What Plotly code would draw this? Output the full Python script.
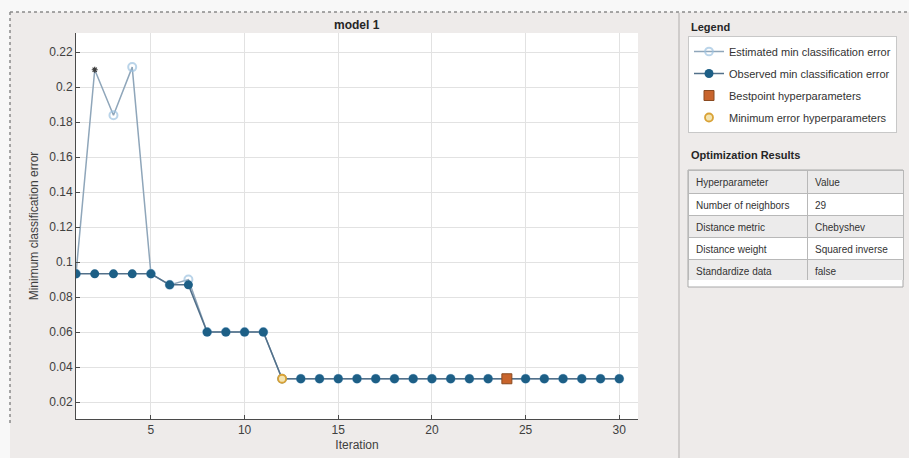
import plotly.graph_objects as go

W, H = 909, 458

iterations = list(range(1, 31))
estimated = [0.0933, 0.2100, 0.1840, 0.2115, 0.0933, 0.0870, 0.0900,
             0.0600, 0.0600, 0.0600, 0.0600] + [0.0333] * 19
observed = [0.0933] * 5 + [0.0870] * 2 + [0.0600] * 4 + [0.0333] * 19
best_iter = [24]
best_val = [0.0333]
minerr_iter = [12]
minerr_val = [0.0333]

ytick_vals = [0.02, 0.04, 0.06, 0.08, 0.10, 0.12, 0.14, 0.16, 0.18, 0.20, 0.22]
ytick_text = ["0.02", "0.04", "0.06", "0.08", "0.1", "0.12", "0.14", "0.16", "0.18", "0.2", "0.22"]
xtick_vals = [5, 10, 15, 20, 25, 30]

table_params = ["Hyperparameter", "Number of neighbors", "Distance metric", "Distance weight", "Standardize data"]
table_values = ["Value", "29", "Chebyshev", "Squared inverse", "false"]

FONT = "Liberation Sans, Arial, sans-serif"

def px(x):
    return x / W

def py(y):
    return 1 - y / H

fig = go.Figure()

est_sizes = [8] * len(iterations)
est_sizes[1] = 0

fig.add_trace(go.Scatter(
    x=iterations, y=estimated, mode="lines+markers",
    name="Estimated min classification error",
    line=dict(color="#8fa6ba", width=1.5),
    marker=dict(symbol="circle-open", size=est_sizes, color="#9cc2df", line=dict(width=2, color="#9cc2df")),
    legendgroup="a",
))
fig.add_trace(go.Scatter(
    x=[iterations[1]], y=[estimated[1]], mode="markers", showlegend=False,
    marker=dict(symbol="asterisk", size=5, color="#3a3a3a", line=dict(width=1.2, color="#3a3a3a")),
))
fig.add_trace(go.Scatter(
    x=iterations, y=observed, mode="lines+markers",
    name="Observed min classification error",
    line=dict(color="#52708a", width=1.5),
    marker=dict(symbol="circle", size=9, color="#1d5f86"),
    legendgroup="b",
))
fig.add_trace(go.Scatter(
    x=best_iter, y=best_val, mode="markers",
    name="Bestpoint hyperparameters",
    marker=dict(symbol="square", size=10, color="#c8642c", line=dict(width=1, color="#8a4a20")),
    legendgroup="c",
))
fig.add_trace(go.Scatter(
    x=minerr_iter, y=minerr_val, mode="markers",
    name="Minimum error hyperparameters",
    marker=dict(symbol="circle", size=8, color="#f4e4b0", line=dict(width=1.8, color="#d9a236")),
    legendgroup="d",
))

fig.add_trace(go.Table(
    domain=dict(x=[px(688), px(903)], y=[py(280), py(170)]),
    columnwidth=[119, 96],
    header=dict(values=[[table_params[0]], [table_values[0]]],
                fill_color="#ecebeb", line_color="#b8b8b8",
                align="left", height=23,
                font=dict(family=FONT, size=10, color="#333333")),
    cells=dict(values=[table_params[1:], table_values[1:]],
               fill_color=[["#ffffff", "#ecebeb", "#ffffff", "#ecebeb"]] * 2,
               line_color="#b8b8b8", align="left", height=22,
               font=dict(family=FONT, size=10, color="#333333")),
))

shapes = [
    dict(type="rect", xref="paper", yref="paper", x0=0, x1=1, y0=py(12), y1=1,
         fillcolor="#f8f8f8", line=dict(width=0), layer="below"),
    dict(type="rect", xref="paper", yref="paper", x0=0, x1=px(10), y0=0, y1=1,
         fillcolor="#f8f8f8", line=dict(width=0), layer="below"),
    dict(type="line", xref="paper", yref="paper", x0=px(10), x1=1, y0=py(12), y1=py(12),
         line=dict(color="#8a8a8a", width=1.5, dash="dot")),
    dict(type="line", xref="paper", yref="paper", x0=px(10), x1=px(10), y0=py(12), y1=py(425),
         line=dict(color="#8a8a8a", width=1.5, dash="dot")),
    dict(type="line", xref="paper", yref="paper", x0=px(679), x1=px(679), y0=0, y1=py(13),
         line=dict(color="#c4c2c1", width=1.5)),
    dict(type="rect", xref="paper", yref="paper", x0=px(688), x1=px(903), y0=py(287), y1=py(170),
         fillcolor="#ffffff", line=dict(color="#a8a8a8", width=1), layer="below"),
]

annotations = [
    dict(text="<b>model 1</b>", x=px(357), y=py(25), xref="paper", yref="paper",
         xanchor="center", yanchor="middle",
         showarrow=False, font=dict(family=FONT, size=12, color="#262626")),
    dict(text="<b>Legend</b>", x=px(689), y=py(27), xref="paper", yref="paper",
         xanchor="left", yanchor="middle", showarrow=False,
         font=dict(family=FONT, size=11, color="#262626")),
    dict(text="<b>Optimization Results</b>", x=px(689), y=py(155), xref="paper", yref="paper",
         xanchor="left", yanchor="middle", showarrow=False,
         font=dict(family=FONT, size=11, color="#262626")),
]

fig.update_layout(
    width=W, height=H,
    margin=dict(l=0, r=0, t=0, b=0),
    paper_bgcolor="#eeebea",
    plot_bgcolor="#ffffff",
    font=dict(family=FONT, size=12, color="#404040"),
    shapes=shapes,
    annotations=annotations,
    showlegend=True,
    legend=dict(x=px(688), y=py(36), xanchor="left", yanchor="top",
                bgcolor="#ffffff", bordercolor="#c8c8c8", borderwidth=1,
                font=dict(family=FONT, size=11, color="#333333"),
                itemwidth=30, tracegroupgap=3),
    xaxis=dict(domain=[px(76), px(638)], range=[1, 31],
               tickvals=xtick_vals, showgrid=True, gridcolor="#e2e2e2",
               showline=True, linecolor="#4a4a4a", linewidth=1,
               ticks="inside", ticklen=4, tickcolor="#4a4a4a",
               zeroline=False, tickfont=dict(size=12, color="#404040"),
               title=dict(text="Iteration", font=dict(size=12, color="#404040"), standoff=4)),
    yaxis=dict(domain=[py(419), py(33)], range=[0.0103, 0.231],
               tickvals=ytick_vals, ticktext=ytick_text, showgrid=True, gridcolor="#e2e2e2",
               showline=True, linecolor="#4a4a4a", linewidth=1,
               ticks="inside", ticklen=4, tickcolor="#4a4a4a",
               zeroline=False, tickfont=dict(size=12, color="#404040"),
               title=dict(text="Minimum classification error", font=dict(size=12, color="#404040"), standoff=8)),
)

fig.write_html("out.html")
